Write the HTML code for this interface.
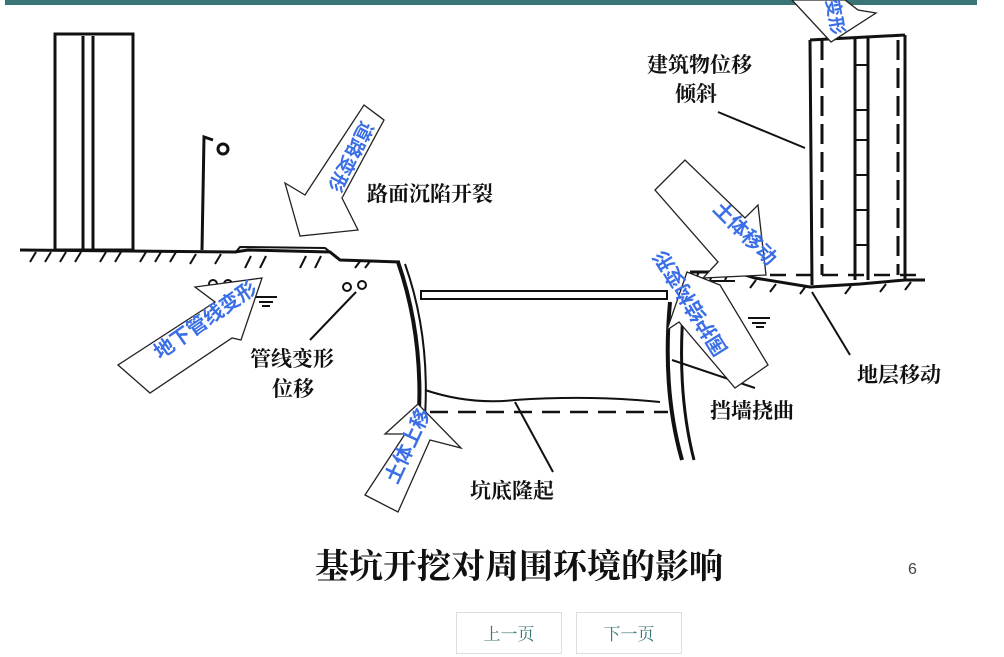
<!DOCTYPE html>
<html><head><meta charset="utf-8"><style>
html,body{margin:0;padding:0;background:#fff;}
body{width:1004px;height:639px;overflow:hidden;position:relative;font-family:"Liberation Serif","Noto Serif CJK SC",serif;}
svg{position:absolute;left:0;top:0;}
.btn{position:absolute;top:612px;width:104px;height:40px;border:1px solid #ddd;color:#3a7575;font-size:17px;text-align:center;line-height:44px;font-family:"Liberation Serif","Noto Serif CJK SC",serif;}
</style></head><body>
<svg width="1004" height="639" viewBox="0 0 1004 639">
<rect x="5" y="0" width="972" height="5" fill="#3a7575"/>
<g stroke="#111" fill="none" stroke-width="3">
<rect x="55" y="34" width="78" height="216"/>
<line x1="83" y1="36" x2="83" y2="250"/><line x1="93" y1="36" x2="93" y2="250"/>
<path d="M202 250 L204 137 L213 140"/><circle cx="223" cy="149" r="5" stroke-width="3"/>
<path d="M20 250 L235 252 L248 250 L330 252 L340 260 L400 262" stroke-width="3"/>
<path d="M235 253 L240 247 L325 248 L338 258" stroke-width="2"/>
<path d="M30 262 l6 -10 M45 262 l6 -10 M60 262 l6 -10 M75 262 l6 -10 M100 262 l6 -10 M115 262 l6 -10 M140 262 l6 -10 M155 262 l6 -10 M170 262 l6 -10 M190 264 l6 -10 M215 264 l6 -10 M245 268 l6 -12 M260 268 l6 -12 M300 268 l6 -12 M315 268 l6 -12 M355 268 l6 -8 M365 268 l6 -8" stroke-width="2"/>
<path d="M398 262 Q425 340 418 430" stroke-width="4"/>
<path d="M405 264 Q432 340 424 430" stroke-width="2"/>
<rect x="421" y="291" width="246" height="8" stroke-width="2"/>
<path d="M670 302 Q662 390 682 460" stroke-width="4"/>
<path d="M684 300 Q676 390 694 460" stroke-width="3"/>
<path d="M425 390 Q470 405 515 400 Q590 395 660 402" stroke-width="2"/>
<path d="M430 412 L668 412" stroke-dasharray="18 10" stroke-width="2.5"/>
<path d="M690 272 L735 272 L755 278 L810 287 L860 284 L905 280 L925 280" stroke-width="3"/>
<path d="M690 281 L735 281" stroke-width="2"/>
<path d="M695 280 l4 -8 M710 280 l4 -8 M725 280 l4 -8 M750 288 l6 -8 M770 292 l6 -8 M800 294 l6 -8 M845 294 l6 -8 M880 292 l6 -8 M905 290 l6 -8" stroke-width="2"/>
<path d="M770 275 L925 275" stroke-dasharray="16 10" stroke-width="2.5"/>
<path d="M810 40 L812 285 M905 35 L905 280 M810 40 L905 35" stroke-width="3"/>
<path d="M822 40 L822 275 M898 40 L898 275" stroke-dasharray="20 8" stroke-width="3"/>
<path d="M855 38 L855 280 M868 38 L868 280" stroke-width="3"/>
<path d="M855 65 h13 M855 110 h13 M855 140 h13 M855 175 h13 M855 210 h13 M855 245 h13" stroke-width="2"/>
<path d="M255 297 h22 M259 302 h14 M262 306 h8 M748 318 h22 M752 323 h14 M756 327 h8" stroke-width="2"/>
<circle cx="213" cy="284" r="4" stroke-width="2"/><circle cx="228" cy="284" r="4" stroke-width="2"/>
<circle cx="347" cy="287" r="4" stroke-width="2"/><circle cx="362" cy="285" r="4" stroke-width="2"/>
<path d="M310 340 L356 292 M718 112 L805 148 M850 355 L812 292 M755 388 L672 360 M553 472 L515 402" stroke-width="2"/>
</g>
<g fill="#fff" stroke="#222" stroke-width="1.3">
<polygon points="364,105 384,120 342,198 358,230 300,236 285,183 305,195"/>
<polygon points="118,365 150,393 232,338 241,340 262,278 195,287 215,302"/>
<polygon points="365,495 398,512 430,440 461,448 418,404 385,434 405,434"/>
<polygon points="655,190 685,160 745,218 758,205 766,275 703,278 718,262"/>
<polygon points="735,388 768,365 720,285 687,272 667,330 679,322"/>
<polygon points="820,0 845,0 858,10 876,13 831,42 792,0"/>
</g>
<g fill="#3b6fe6" font-family="'Liberation Sans','Noto Sans CJK SC',sans-serif" font-weight="bold" font-size="20">
<text transform="translate(362,120) rotate(117)" font-size="19">道路变形</text>
<text transform="translate(160,360) rotate(-35)">地下管线变形</text>
<text transform="translate(397,485) rotate(-65)">土体上移</text>
<text transform="translate(712,210) rotate(45)">土体移动</text>
<text transform="translate(728,350) rotate(-122)">围护结构变形</text>
<text transform="translate(826,0) rotate(80)" font-size="18">变形</text>
</g>
<g fill="#111" font-weight="bold" font-size="21">
<text x="367" y="201">路面沉陷开裂</text>
<text x="647" y="72">建筑物位移</text>
<text x="675" y="101">倾斜</text>
<text x="250" y="366">管线变形</text>
<text x="272" y="396">位移</text>
<text x="857" y="382">地层移动</text>
<text x="710" y="418">挡墙挠曲</text>
<text x="470" y="498">坑底隆起</text>
<text x="315" y="578" font-size="34">基坑开挖对周围环境的影响</text>
</g>
<text x="908" y="574" font-size="16" fill="#444" font-family="Liberation Sans,sans-serif">6</text>
</svg>
<div class="btn" style="left:456px">上一页</div>
<div class="btn" style="left:576px">下一页</div>
</body></html>
